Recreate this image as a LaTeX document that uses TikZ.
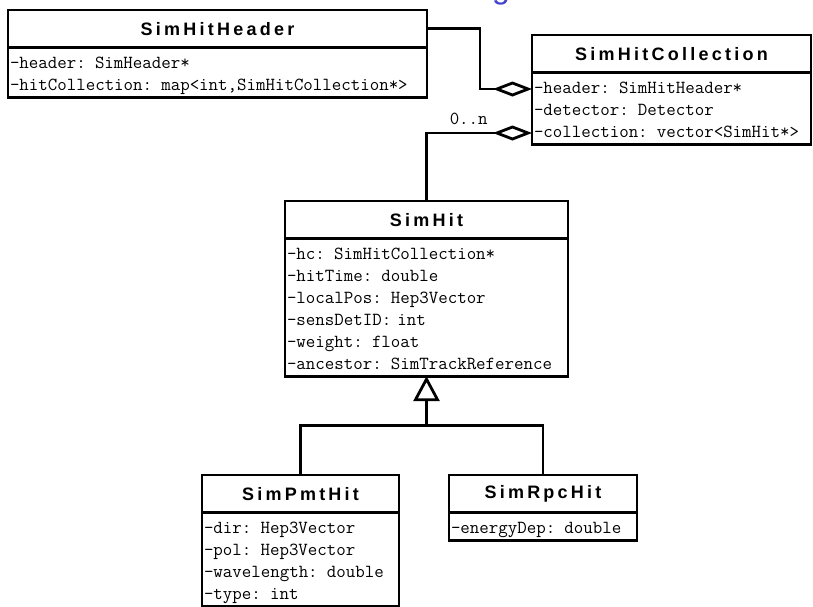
\documentclass[tikz,border=0pt]{standalone}
\usepackage{fontspec}
\usetikzlibrary{arrows.meta}
\newfontfamily\classfont{Liberation Sans}[LetterSpace=18]
\newfontfamily\slidefont{Liberation Sans}
\definecolor{slideblue}{RGB}{64,64,208}

\tikzset{
  classname/.style={draw, line width=2.8pt, outer sep=0pt, inner sep=0pt,
    minimum height=37.5pt, align=center, anchor=north west,
    font=\classfont\bfseries\fontsize{18}{21}\selectfont},
  classattr/.style={draw, line width=2.8pt, outer sep=0pt, inner xsep=2pt,
    inner ysep=0pt, align=left, anchor=north west,
    font=\ttfamily\fontsize{18.4}{22}\selectfont,
    execute at begin node={\rule{0pt}{21pt}}},
  link/.style={line width=2.8pt},
}

\begin{document}
\begin{tikzpicture}[x=1pt, y=-1pt]
  \useasboundingbox (0,0) rectangle (813,606);
  % cut-off slide title
  \node[text=slideblue, font=\slidefont\fontsize{32}{36}\selectfont,
    anchor=base, inner sep=0pt] (titlefrag) at (501,-2) {g};

  % classes
  \node[classname, text width=419pt] (hdr) at (8,10) {SimHitHeader};
  \node[classattr, text width=415pt] (hdrattr) at (hdr.south west)
    {\strut-header: SimHeader*\\\strut-hitCollection: map<int,SimHitCollection*>};

  \node[classname, text width=279pt] (coll) at (532,35) {SimHitCollection};
  \node[classattr, text width=275pt] (collattr) at (coll.south west)
    {\strut-header: SimHitHeader*\\\strut-detector: Detector\\\strut-collection: vector<SimHit*>};

  \node[classname, text width=283pt] (hit) at (285,201) {SimHit};
  \node[classattr, text width=279pt] (hitattr) at (hit.south west)
    {\strut-hc: SimHitCollection*\\\strut-hitTime: double\\\strut-localPos: Hep3Vector\\
     \strut-sensDetID: int\\\strut-weight: float\\\strut-ancestor: SimTrackReference};

  \node[classname, text width=197pt] (pmt) at (202,475) {SimPmtHit};
  \node[classattr, text width=193pt] (pmtattr) at (pmt.south west)
    {\strut-dir: Hep3Vector\\\strut-pol: Hep3Vector\\\strut-wavelength: double\\\strut-type: int};

  \node[classname, text width=188pt] (rpc) at (449,475) {SimRpcHit};
  \node[classattr, text width=184pt] (rpcattr) at (rpc.south west)
    {\strut-energyDep: double};

  % aggregations
  \draw[link, -{Diamond[open, length=39pt, width=15pt]}]
    (hdr.east) -- ++(53,0) |- ([yshift=-16.5pt]collattr.north west);
  \draw[link, -{Diamond[open, length=39pt, width=15pt]}]
    (hit.north) |- ([yshift=-60.5pt]collattr.north west)
    node[pos=0.7, above=7pt, inner sep=0pt, font=\ttfamily\fontsize{18.4}{22}\selectfont] (mult) {0..n};

  % inheritance
  \coordinate (inh) at ([yshift=-49pt]hitattr.south);
  \draw[link] (pmt.north) |- (inh) -| (rpc.north);
  \draw[link, -{Triangle[open, length=25pt, width=26pt]}] (inh) -- (hitattr.south);
\end{tikzpicture}
\end{document}
